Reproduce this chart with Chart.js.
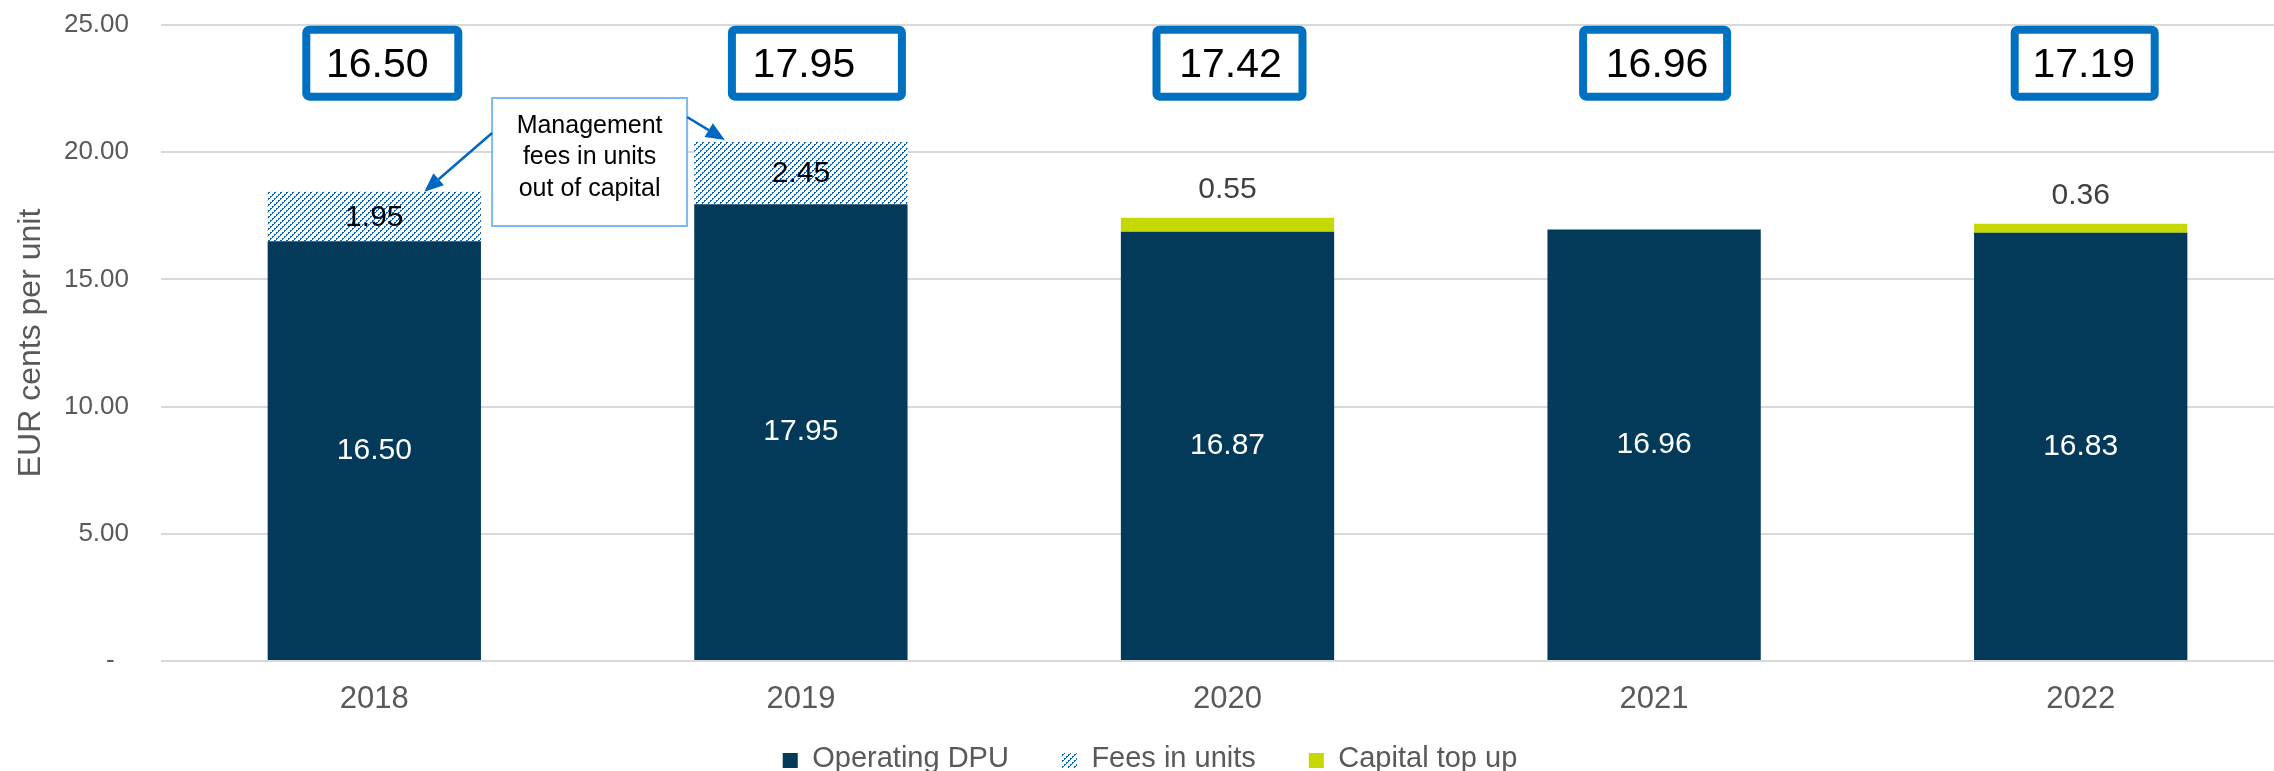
<!DOCTYPE html>
<html><head><meta charset="utf-8">
<script src="https://cdn.jsdelivr.net/npm/chart.js@4/dist/chart.umd.min.js"></script>
<style>
html,body{margin:0;padding:0;background:#fff;overflow:hidden;width:2274px;height:771px;}
#wrap{position:absolute;left:0;top:0;width:2300px;height:771px;}
</style></head><body>
<div id="wrap"><canvas id="c" width="2300" height="771"></canvas></div>
<script>
// ---- data ----
const years = ['2018', '2019', '2020', '2021', '2022'];
const operatingDPU = [16.50, 17.95, 16.87, 16.96, 16.83];
const feesInUnits = [1.95, 2.45, null, null, null];
const capitalTopUp = [null, null, 0.55, null, 0.36];
const totalDPU = [16.50, 17.95, 17.42, 16.96, 17.19];
const seriesNames = ['Operating DPU', 'Fees in units', 'Capital top up'];
const yAxisTitle = 'EUR cents per unit';
const calloutLines = ['Management', 'fees in units', 'out of capital'];
const yMin = 0, yMax = 25, yStep = 5;

// ---- styling of the total boxes (outer width, horizontal shift from bar centre) ----
const totalBoxWidth = [160, 178, 154, 152, 148];
const totalBoxShift = [8, 16, 2, 1, 4];

const FONT = "'Liberation Sans', Arial, Helvetica, sans-serif";
Chart.defaults.font.family = FONT;

const canvas = document.getElementById('c');
const mainCtx = canvas.getContext('2d');

function makeHatch() {
  const c = document.createElement('canvas');
  c.width = 6; c.height = 6;
  const g = c.getContext('2d');
  g.fillStyle = '#ffffff'; g.fillRect(0, 0, 6, 6);
  g.fillStyle = '#0062C4';
  for (let x = 0; x < 6; x++) for (let y = 0; y < 6; y++) {
    const s = (x + y) % 6;
    if (s === 5 || (s === 4 && x % 2 === 0)) g.fillRect(x, y, 1, 1);
  }
  return mainCtx.createPattern(c, 'repeat');
}
const hatch = makeHatch();

function arrow(ctx, x1, y1, x2, y2) {
  const a = Math.atan2(y2 - y1, x2 - x1), L = 19, W = 8;
  const bx = x2 - L * Math.cos(a), by = y2 - L * Math.sin(a);
  ctx.beginPath(); ctx.moveTo(x1, y1); ctx.lineTo(bx, by); ctx.stroke();
  ctx.beginPath(); ctx.moveTo(x2, y2);
  ctx.lineTo(bx + W * Math.sin(a), by - W * Math.cos(a));
  ctx.lineTo(bx - W * Math.sin(a), by + W * Math.cos(a));
  ctx.closePath(); ctx.fill();
}

const overlay = {
  id: 'overlay',
  afterDatasetsDraw(chart) {
    const ctx = chart.ctx;
    const ys = chart.scales.y, xs = chart.scales.x;
    const m0 = chart.getDatasetMeta(0), m1 = chart.getDatasetMeta(1), m2 = chart.getDatasetMeta(2);
    ctx.save();
    ctx.textAlign = 'center'; ctx.textBaseline = 'middle';
    ctx.font = '30px ' + FONT;
    m0.data.forEach((b, i) => {
      ctx.fillStyle = '#ffffff';
      ctx.fillText(operatingDPU[i].toFixed(2), b.x, (b.y + b.base) / 2);
    });
    m1.data.forEach((b, i) => {
      if (feesInUnits[i] == null) return;
      ctx.fillStyle = '#000000';
      ctx.fillText(feesInUnits[i].toFixed(2), b.x, (b.y + b.base) / 2 + 1);
    });
    m2.data.forEach((b, i) => {
      if (capitalTopUp[i] == null) return;
      ctx.fillStyle = '#404040';
      ctx.fillText(capitalTopUp[i].toFixed(2), b.x, b.y - 28);
    });
    // total boxes
    const boxY = ys.getPixelForValue(23.5);
    m0.data.forEach((b, i) => {
      const cx = b.x + totalBoxShift[i], w = totalBoxWidth[i] - 8, h = 67;
      ctx.lineWidth = 8; ctx.strokeStyle = '#0070C0'; ctx.fillStyle = '#ffffff';
      ctx.beginPath();
      if (ctx.roundRect) ctx.roundRect(cx - w / 2, boxY - h / 2, w, h, 3); else ctx.rect(cx - w / 2, boxY - h / 2, w, h);
      ctx.fill(); ctx.stroke();
      ctx.fillStyle = '#000000'; ctx.font = '41px ' + FONT;
      ctx.fillText(totalDPU[i].toFixed(2), b.x + 3, boxY + 3);
    });
    // callout
    const ccx = (xs.getPixelForValue(0) + xs.getPixelForValue(1)) / 2 + 2;
    const top = ys.getPixelForValue(22.13), bottom = ys.getPixelForValue(17.1), w = 195;
    ctx.fillStyle = '#ffffff';
    ctx.fillRect(ccx - w / 2, top, w, bottom - top);
    ctx.strokeStyle = '#7DB9EE'; ctx.lineWidth = 2;
    ctx.strokeRect(ccx - w / 2, top, w, bottom - top);
    ctx.fillStyle = '#000000'; ctx.font = '25px ' + FONT;
    calloutLines.forEach((t, k) => ctx.fillText(t, ccx, top + 28 + k * 31.5));
    ctx.strokeStyle = '#0066C2'; ctx.fillStyle = '#0066C2'; ctx.lineWidth = 2.5;
    const f0 = m1.data[0], f1 = m1.data[1];
    arrow(ctx, ccx - w / 2, top + 35, f0.x + 50, f0.y);
    arrow(ctx, ccx + w / 2, top + 19, f1.x - 76, f1.y - 2);
    ctx.restore();
  },
  afterDraw(chart) {
    // legend built from the chart's datasets
    const ctx = chart.ctx;
    const size = 29, box = 15, gap = 53, cy = 759;
    ctx.save();
    ctx.font = size + 'px ' + FONT;
    const items = chart.data.datasets.map(d => ({ text: d.label, fill: d.backgroundColor, w: box + size / 2 + ctx.measureText(d.label).width }));
    const total = items.reduce((s, it) => s + it.w, 0) + gap * (items.length - 1);
    let x = chart.width / 2 - total / 2;
    ctx.textBaseline = 'middle'; ctx.textAlign = 'left';
    items.forEach(it => {
      ctx.fillStyle = it.fill;
      ctx.fillRect(x, cy + 1.5 - box / 2, box, box);
      ctx.fillStyle = '#595959';
      ctx.fillText(it.text, x + box + size / 2, cy);
      x += it.w + gap;
    });
    ctx.restore();
  }
};

new Chart(canvas, {
  type: 'bar',
  data: {
    labels: years,
    datasets: [
      { label: seriesNames[0], data: operatingDPU, backgroundColor: '#033A59', borderWidth: 0, barPercentage: 0.5, categoryPercentage: 1 },
      { label: seriesNames[1], data: feesInUnits, backgroundColor: hatch, borderWidth: 0, barPercentage: 0.5, categoryPercentage: 1 },
      { label: seriesNames[2], data: capitalTopUp, backgroundColor: '#C5D900', borderWidth: 0, barPercentage: 0.5, categoryPercentage: 1 }
    ]
  },
  options: {
    responsive: false,
    animation: false,
    devicePixelRatio: 1,
    events: [],
    layout: { padding: { left: 0, right: 6, top: 25, bottom: 54 } },
    plugins: {
      tooltip: { enabled: false },
      legend: { display: false }
    },
    scales: {
      x: {
        stacked: true,
        grid: { display: false, drawTicks: false },
        border: { display: false },
        ticks: { color: '#595959', font: { size: 31 }, padding: 20 },
        afterFit: (s) => { s.height = 56; }
      },
      y: {
        stacked: true,
        min: yMin, max: yMax,
        grid: { color: '#D9D9D9', lineWidth: 2, drawTicks: false },
        border: { display: false },
        ticks: {
          stepSize: yStep, color: '#595959', font: { size: 26 }, padding: 32,
          callback: (v) => v === 0 ? '-  ' : Number(v).toFixed(2)
        },
        title: { display: true, text: yAxisTitle, color: '#595959', font: { size: 32 }, padding: { top: 12, bottom: 0 } },
        afterFit: (s) => { s.width = 161; s.paddingTop = 0; s.paddingBottom = 0; }
      }
    }
  },
  plugins: [overlay]
});
</script>
</body></html>
